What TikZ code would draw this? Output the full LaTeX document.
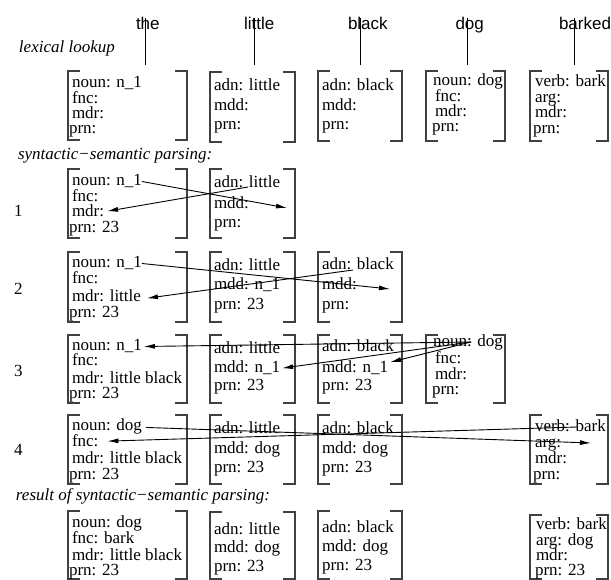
\documentclass[tikz,border=0pt]{standalone}
\usepackage{fontspec}
\setmainfont{Liberation Serif}
\newfontfamily\hvfont{Liberation Sans}
\usetikzlibrary{arrows.meta,calc}
\newcommand\tline[4]{\node[tx] (#1) at (#2,#3) {#4};}
\newcommand\bx[5]{%
  \coordinate (#1nw) at (#2,#3);
  \coordinate (#1se) at (#4,#5);
  \draw[brk] ($(#1nw)+(12,0)$) -- (#1nw) -- (#1nw |- #1se) -- ++(12,0);
  \draw[brk] ($(#1se |- #1nw)+(-12,0)$) -- (#1se |- #1nw) -- (#1se) -- ++(-12,0);
}
\begin{document}
\begin{tikzpicture}[x=1pt,y=-1pt,
  tx/.style={inner sep=0pt, outer sep=0pt, anchor=base west, font=\fontsize{17}{17}\selectfont},
  hd/.style={tx, font=\fontsize{17}{17}\selectfont\itshape},
  wd/.style={inner sep=0pt, outer sep=0pt, anchor=base west, font=\hvfont\fontsize{17}{17}\selectfont},
  brk/.style={draw=black!75, line width=1.2pt},
  arr/.style={-{Latex[length=11pt,width=5pt]}, line width=0.9pt},
  lnk/.style={line width=1pt}]
\useasboundingbox (0,0) rectangle (611,580);

% top words
\node[wd] (w1) at (136,30) {the};
\node[wd] (w2) at (244,30) {little};
\node[wd] (w3) at (348,30) {black};
\node[wd] (w4) at (455.5,30) {dog};
\node[wd] (w5) at (559,30) {barked};
\coordinate (c1) at (145,65);
\coordinate (c2) at (254,65);
\coordinate (c3) at (360,65);
\coordinate (c4) at (467.5,65);
\coordinate (c5) at (574,65);
\foreach \i in {1,...,5} {\draw[lnk] (w\i.north -| c\i) -- (c\i);}

% headings
\node[hd] (h1) at (19,53) {lexical lookup};
\node[hd] (h2) at (18,160) {syntactic−semantic parsing:};
\node[hd] (h3) at (16,500) {result of syntactic−semantic parsing:};

% row labels
\node[tx] (n1) at (14,217) {1};
\node[tx] (n2) at (14,295) {2};
\node[tx] (n3) at (14,377) {3};
\node[tx] (n4) at (14,455) {4};

% lexical lookup
\bx{L1}{68}{71}{187}{140}
\bx{L2}{210}{72}{295}{142}
\bx{L3}{318}{71}{402}{141}
\bx{L4}{426}{71}{505}{141}
\bx{L5}{530}{71}{608}{141}
\tline{L1a}{72}{88}{noun: n\_1}
\tline{L1b}{72}{103.5}{fnc:}
\tline{L1c}{72}{119}{mdr:}
\tline{L1d}{69}{134}{prn:}
\tline{L2a}{214}{91}{adn: little}
\tline{L2b}{214}{111}{mdd:}
\tline{L2c}{214}{130}{prn:}
\tline{L3a}{322}{91}{adn: black}
\tline{L3b}{322}{111}{mdd:}
\tline{L3c}{322}{130}{prn:}
\tline{L4a}{433}{86}{noun: dog}
\tline{L4b}{435}{102}{fnc:}
\tline{L4c}{435}{117}{mdr:}
\tline{L4d}{432}{132}{prn:}
\tline{L5a}{535}{87}{verb: bark}
\tline{L5b}{535}{103}{arg:}
\tline{L5c}{535}{118}{mdr:}
\tline{L5d}{533}{134}{prn:}

% row 1
\bx{A1}{68}{169}{187}{238}
\bx{A2}{210}{169}{295}{238}
\tline{A1a}{72}{186}{noun: n\_1}
\tline{A1b}{72}{202}{fnc:}
\tline{A1c}{72}{217}{mdr:}
\tline{A1d}{69}{233}{prn: 23}
\tline{A2a}{214}{188}{adn: little}
\tline{A2b}{214}{209}{mdd:}
\tline{A2c}{214}{228}{prn:}
\coordinate (A2t) at (287,208);
\draw[arr] (A1a.east) -- (A2t);
\draw[arr] ($(A2a.base west)+(34,-1)$) -- ($(A1c.east)+(3,0)$);

% row 2
\bx{B1}{68}{252}{187}{322}
\bx{B2}{210}{252}{295}{322}
\bx{B3}{318}{252}{402}{322}
\tline{B1a}{72}{268}{noun: n\_1}
\tline{B1b}{72}{284}{fnc:}
\tline{B1c}{72}{302}{mdr: little}
\tline{B1d}{69}{318}{prn: 23}
\tline{B2a}{214}{271}{adn: little}
\tline{B2b}{214}{290}{mdd: n\_1}
\tline{B2c}{214}{309}{prn: 23}
\tline{B3a}{322}{270}{adn: black}
\tline{B3b}{322}{290}{mdd:}
\tline{B3c}{322}{309}{prn:}
\coordinate (B3t) at (390,289);
\draw[arr] (B1a.east) -- (B3t);
\draw[arr] ($(B3a.base west)+(31,0)$) -- ($(B1c.east)+(6,2)$);

% row 3
\bx{C1}{68}{335}{187}{403}
\bx{C2}{210}{335}{295}{403}
\bx{C3}{318}{335}{402}{403}
\bx{C4}{426}{335}{505}{403}
\tline{C1a}{72}{351}{noun: n\_1}
\tline{C1b}{72}{366}{fnc:}
\tline{C1c}{72}{384}{mdr: little black}
\tline{C1d}{69}{399}{prn: 23}
\tline{C2a}{214}{353}{adn: little}
\tline{C2b}{214}{373}{mdd: n\_1}
\tline{C2c}{214}{390}{prn: 23}
\tline{C3a}{322}{352}{adn: black}
\tline{C3b}{322}{372}{mdd: n\_1}
\tline{C3c}{322}{390}{prn: 23}
\tline{C4a}{433}{347}{noun: dog}
\tline{C4b}{435}{363}{fnc:}
\tline{C4c}{435}{379}{mdr:}
\tline{C4d}{432}{394}{prn:}
\coordinate (C4s) at ($(C4a.base west)+(38,-5)$);
\draw[arr] (C4s) -- ($(C1a.east)+(2,0)$);
\draw[arr] (C4s) -- ($(C2b.east)+(2,0)$);
\draw[arr] (C4s) -- ($(C3b.east)+(2,-5)$);

% row 4
\bx{D1}{68}{415}{187}{484}
\bx{D2}{210}{415}{295}{484}
\bx{D3}{318}{415}{402}{484}
\bx{D5}{530}{415}{608}{484}
\tline{D1a}{72}{430}{noun: dog}
\tline{D1b}{72}{446}{fnc:}
\tline{D1c}{72}{463}{mdr: little black}
\tline{D1d}{69}{479}{prn: 23}
\tline{D2a}{214}{433}{adn: little}
\tline{D2b}{214}{453}{mdd: dog}
\tline{D2c}{214}{472}{prn: 23}
\tline{D3a}{322}{433}{adn: black}
\tline{D3b}{322}{453}{mdd: dog}
\tline{D3c}{322}{472}{prn: 23}
\tline{D5a}{535}{431}{verb: bark}
\tline{D5b}{535}{447}{arg:}
\tline{D5c}{535}{463}{mdr:}
\tline{D5d}{533}{479}{prn:}
\coordinate (D5t) at (591,443);
\coordinate (D5s) at ($(D5a.base west)+(42,-4)$);
\draw[arr] ($(D1a.east)+(4,1.5)$) -- (D5t);
\draw[arr] (D5s) -- ($(D1b.east)+(9,1)$);

% result
\bx{E1}{68}{511}{187}{579}
\bx{E2}{210}{512}{295}{579}
\bx{E3}{318}{511}{402}{579}
\bx{E5}{530}{515}{608}{579}
\tline{E1a}{72}{527}{noun: dog}
\tline{E1b}{72}{543}{fnc: bark}
\tline{E1c}{72}{560}{mdr: little black}
\tline{E1d}{69}{575}{prn: 23}
\tline{E2a}{214}{534}{adn: little}
\tline{E2b}{214}{552}{mdd: dog}
\tline{E2c}{214}{571}{prn: 23}
\tline{E3a}{322}{532}{adn: black}
\tline{E3b}{322}{551}{mdd: dog}
\tline{E3c}{322}{570}{prn: 23}
\tline{E5a}{536}{529}{verb: bark}
\tline{E5b}{536}{545}{arg: dog}
\tline{E5c}{536}{560}{mdr:}
\tline{E5d}{535}{575.5}{prn: 23}
\end{tikzpicture}
\end{document}
